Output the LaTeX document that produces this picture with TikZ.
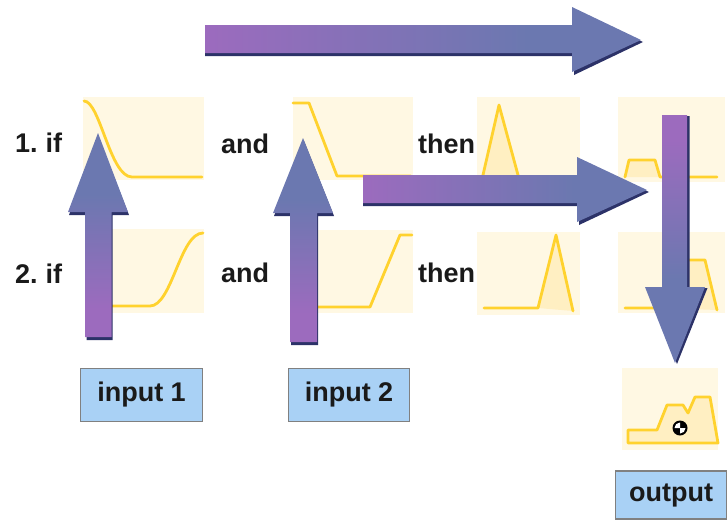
\documentclass[tikz,border=0pt]{standalone}
\usepackage{fontspec}
\setmainfont{Liberation Sans}
\definecolor{pur}{HTML}{9C6BBE}
\definecolor{blu}{HTML}{6B78B0}
\definecolor{shd}{HTML}{2C3268}
\definecolor{panel}{HTML}{FFF8E3}
\definecolor{fillY}{HTML}{FFEFC2}
\definecolor{curve}{HTML}{FFD22E}
\definecolor{boxb}{HTML}{A9D1F5}
\definecolor{boxe}{HTML}{808080}
\definecolor{txt}{HTML}{1A1A1A}
\pgfdeclarehorizontalshading{arrH}{100bp}{color(0bp)=(pur); color(25bp)=(pur); color(62bp)=(blu); color(100bp)=(blu)}
\pgfdeclareverticalshading{arrUp}{100bp}{color(0bp)=(pur); color(32bp)=(pur); color(60bp)=(blu); color(100bp)=(blu)}
\pgfdeclareverticalshading{arrDown}{100bp}{color(0bp)=(blu); color(42bp)=(blu); color(70bp)=(pur); color(100bp)=(pur)}
\tikzset{
  panelbox/.style={fill=panel, draw=none},
  mf/.style={draw=curve, line width=2.8pt, line join=round, line cap=round},
  mffill/.style={fill=fillY, draw=none},
  lbl/.style={font=\fontsize{27}{32}\selectfont\bfseries, text=txt, inner sep=0pt},
  iobox/.style={draw=boxe, line width=1.6pt, fill=boxb, font=\fontsize{27}{32}\selectfont\bfseries, text=txt, inner sep=0pt},
  arrshadow/.style={fill=shd, draw=none},
}
\begin{document}
\begin{tikzpicture}[x=1pt, y=-1pt]
\useasboundingbox (0,0) rectangle (728,525);

% panels
\fill[panelbox] (83,97) rectangle (204,180);
\fill[panelbox] (95,229) rectangle (204,313);
\fill[panelbox] (293,97) rectangle (413,180);
\fill[panelbox] (303,230) rectangle (413,313);
\fill[panelbox] (477,97) rectangle (580,180);
\fill[panelbox] (477,232) rectangle (580,315);
\fill[panelbox] (618,97) rectangle (725,182);
\fill[panelbox] (618,232) rectangle (725,313);
\fill[panelbox] (622,368) rectangle (718,450);

% row 1 memberships
\draw[mf] (84,101) .. controls (100,101) and (110,177) .. (132,177) -- (202,177);
\draw[mf] (293,103) -- (309,103) -- (337,176) -- (411,176);
\fill[mffill] (483,175) -- (499,105) -- (518,175) -- cycle;
\draw[mf] (483,175) -- (499,105) -- (518,175);
\fill[mffill] (625,177) -- (629,160) -- (655,160) -- (660,177) -- cycle;
\draw[mf] (625,177) -- (629,160) -- (655,160) -- (660,177) -- (717,177);

% row 2 memberships
\draw[mf] (100,306) -- (150,306) .. controls (172,306) and (180,233) .. (203,233);
\draw[mf] (305,307) -- (370,307) -- (400,235) -- (412,235);
\fill[mffill] (538,308) -- (556,235) -- (573,311) -- cycle;
\draw[mf] (484,308) -- (538,308) -- (556,235) -- (573,311);
\fill[mffill] (663,308) -- (685,260) -- (705,260) -- (717,310) -- cycle;
\draw[mf] (625,308) -- (663,308) -- (685,260) -- (705,260) -- (717,310);

% aggregated output
\filldraw[mf, fill=fillY] (628,443) -- (628,430) -- (657,430) -- (667,405) -- (683,405) -- (688,413) -- (695,397) -- (710,397) -- (718,443) -- cycle;
\coordinate (cg) at (680,428);
\fill[black] (cg) circle (7.5);
\fill[white] (cg) -- ++(5.5,0) arc[start angle=0, end angle=90, radius=5.5] -- cycle;
\fill[white] (cg) -- ++(-5.5,0) arc[start angle=180, end angle=270, radius=5.5] -- cycle;

% top arrow
\fill[arrshadow] (205,27) -- (574,27) -- (574,9) -- (643,42) -- (574,75) -- (574,56) -- (205,56) -- cycle;
\shade[shading=arrH] (205,25) -- (572,25) -- (572,7) -- (641,40) -- (572,72) -- (572,53) -- (205,53) -- cycle;

% middle arrow
\fill[arrshadow] (363,177) -- (579,177) -- (579,159) -- (649,192) -- (579,225) -- (579,206) -- (363,206) -- cycle;
\shade[shading=arrH] (363,175) -- (577,175) -- (577,157) -- (647,190) -- (577,222) -- (577,203) -- (363,203) -- cycle;

% up arrow 1
\fill[arrshadow] (86.5,340) -- (86.5,215) -- (69,215) -- (98,136) -- (129,215) -- (112.5,215) -- (112.5,340) -- cycle;
\shade[shading=arrUp] (85,337) -- (85,212) -- (68,212) -- (98,133) -- (128,212) -- (111.5,212) -- (111.5,337) -- cycle;

% up arrow 2
\fill[arrshadow] (291,345) -- (291,216) -- (274,216) -- (304,141) -- (334,216) -- (318,216) -- (318,345) -- cycle;
\shade[shading=arrUp] (290,342) -- (290,213) -- (273,213) -- (303,138) -- (333,213) -- (317,213) -- (317,342) -- cycle;

% down arrow
\fill[arrshadow] (664.5,116) -- (689.5,116) -- (689.5,288) -- (707.5,288) -- (677,364) -- (647,288) -- (664.5,288) -- cycle;
\shade[shading=arrDown] (662,115) -- (687,115) -- (687,287) -- (705,287) -- (675,363) -- (645,287) -- (662,287) -- cycle;

% labels
\node[lbl, anchor=base west] (if1) at (15,152) {1.\hspace{-2pt} if};
\node[lbl, anchor=base west] (if2) at (15,283) {2.\hspace{-2pt} if};
\node[lbl, anchor=base west] (and1) at (221,153) {and};
\node[lbl, anchor=base west] (and2) at (221,282) {and};
\node[lbl, anchor=base west] (then1) at (418,153) {then};
\node[lbl, anchor=base west] (then2) at (418,282) {then};

% boxes
\node[iobox, minimum width=122pt, minimum height=53pt] (in1) at (141.5,395) {input 1};
\node[iobox, minimum width=121pt, minimum height=53pt] (in2) at (349,395) {input 2};
\node[iobox, minimum width=111pt, minimum height=48pt] (out) at (671,495) {output};
\end{tikzpicture}
\end{document}
